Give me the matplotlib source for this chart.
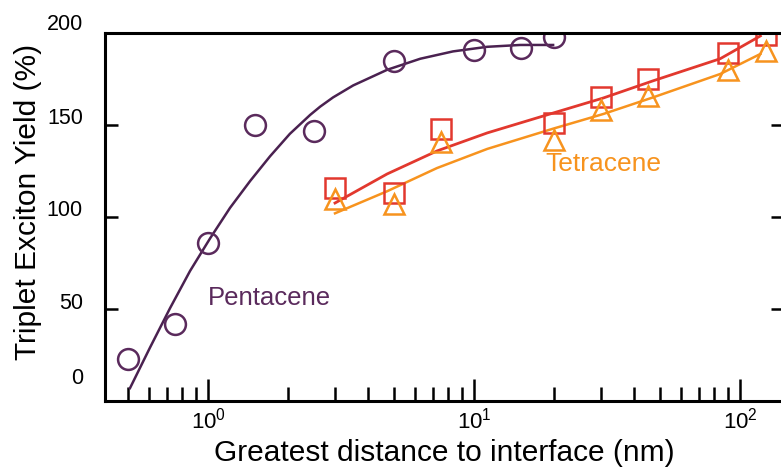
import numpy as np
import matplotlib
matplotlib.use("Agg")
import matplotlib.pyplot as plt
from matplotlib.transforms import ScaledTranslation

plt.rcParams['font.family'] = ['Liberation Sans', 'DejaVu Sans']
plt.rcParams['mathtext.fontset'] = 'custom'
plt.rcParams['mathtext.rm'] = 'Liberation Sans'
plt.rcParams['mathtext.it'] = 'Liberation Sans:italic'

# pentacene points and fit curve
pen_x = [0.5, 0.75, 1.0, 1.5, 2.5, 5.0, 10.0, 15.0, 20.0]
pen_y = [23, 42, 86, 150, 147, 185, 191, 192, 198]
pen_fit_x = [0.509, 0.605, 0.72, 0.856, 1.02, 1.21, 1.44, 1.71, 2.03, 2.42,
             2.64, 2.95, 3.51, 4.71, 6.27, 8.33, 11.2, 14.9, 19.8]
pen_fit_y = [7, 29, 50.5, 70.7, 88.6, 105, 119.6, 133, 145.2, 155.5,
             160, 165, 171.5, 180, 186, 190, 192.5, 193.5, 193.5]

# tetracene points (two data sets) and fit curves
tet_x = [3, 5, 7.5, 20, 30, 45, 90, 125]
tet_sq_y = [116, 113, 148, 151, 165, 175, 189, 199]
tet_tri_y = [110, 107, 141, 142, 158, 166, 180, 190]
tet_fit_x = [3.0, 4.71, 7.25, 11.2, 19.8, 30.6, 47, 84, 119]
tet_sq_fit_y = [107.6, 123.4, 135.9, 145.7, 156.5, 164.7, 174, 186, 198.4]
tet_tri_fit_y = [102, 114, 126.6, 137, 148, 156, 165, 177.7, 188.6]

purple = '#5a2a5c'
purple_line = '#4a2150'
red = '#e2382e'
orange = '#f7931e'

fig = plt.figure(figsize=(7.81, 4.68), dpi=100)
ax = fig.add_axes([105/781, 67/468, 679/781, 368/468])

ax.plot(pen_fit_x, pen_fit_y, color=purple_line, lw=1.8)
ax.plot(tet_fit_x, tet_sq_fit_y, color=red, lw=2.0)
ax.plot(tet_fit_x, tet_tri_fit_y, color=orange, lw=1.8)

ax.plot(pen_x, pen_y, 'o', ms=15, mfc='none', mec=purple, mew=1.8)
ax.plot(tet_x, tet_sq_y, 's', ms=14, mfc='none', mec=red, mew=1.8)
ax.plot(tet_x, tet_tri_y, '^', ms=14, mfc='none', mec=orange, mew=1.8)

ax.set_xscale('log')
ax.set_xlim(0.41, 146)
ax.set_ylim(0, 200)

for s in ax.spines.values():
    s.set_linewidth(2.2)

ax.set_yticks([0, 50, 100, 150, 200])
ax.set_yticklabels(['0', '50', '100', '150', '200'])
ax.tick_params(axis='y', which='both', direction='in', length=9.5, width=1.8,
               labelsize=15.5, pad=16, right=True)
ax.tick_params(axis='x', which='major', direction='in', length=16, width=1.8,
               labelsize=16, pad=5)
ax.tick_params(axis='x', which='minor', direction='in', length=10, width=1.8)

# y tick labels sit a bit above their ticks in the original
offsets = [25, 8, 9, 9, 11]
for lab, dy in zip(ax.get_yticklabels(), offsets):
    lab.set_transform(lab.get_transform() + ScaledTranslation(0, dy/100, fig.dpi_scale_trans))

ax.set_xlabel('Greatest distance to interface (nm)', fontsize=21.5, labelpad=4)
fig.text(28/781, 1-202/468, 'Triplet Exciton Yield (%)', rotation=90,
         fontsize=21.5, ha='center', va='center')

ax.text(1.0, 56, 'Pentacene', color=purple, fontsize=18.5, ha='left', va='center')
ax.text(18.5, 129, 'Tetracene', color=orange, fontsize=19, ha='left', va='center')

fig.savefig('out.png', dpi=100)
